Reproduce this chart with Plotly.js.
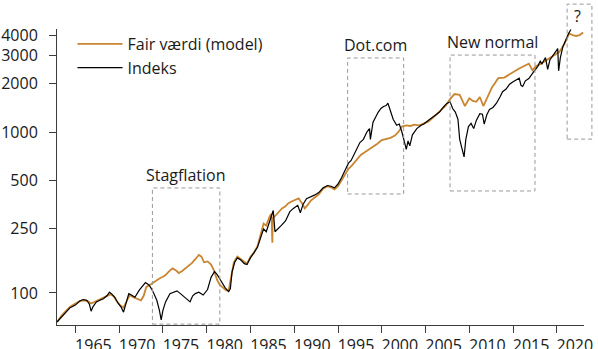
<!DOCTYPE html>
<html>
<head>
<meta charset="utf-8">
<script src="https://cdn.plot.ly/plotly-3.0.1.min.js"></script>
<style>html,body{margin:0;padding:0;background:#fff;}#chart{width:598px;height:349px;}</style>
</head>
<body>
<div id="chart"></div>
<script>
// Fair værdi (model) — orange
const fairYears = [1962.9,1963.4,1963.9,1964.4,1965.0,1965.5,1965.9,1966.4,1966.8,1967.2,1967.7,1968.2,1968.6,1969.0,1969.4,1969.7,1970.1,1970.5,1970.9,1971.2,1971.6,1972.0,1972.5,1972.8,1973.1,1973.5,1973.8,1974.2,1974.6,1975.0,1975.3,1975.7,1976.1,1976.5,1976.8,1977.2,1977.6,1978.0,1978.3,1978.7,1979.1,1979.4,1979.7,1980.1,1980.5,1980.8,1981.2,1981.5,1981.8,1982.2,1982.5,1982.8,1983.1,1983.5,1983.9,1984.3,1984.6,1985.0,1985.4,1985.8,1986.1,1986.5,1986.8,1987.2,1987.4,1987.5,1987.55,1987.9,1988.3,1988.6,1989.0,1989.3,1989.7,1990.1,1990.5,1990.9,1991.2,1991.5,1991.9,1992.3,1992.8,1993.3,1993.8,1994.2,1994.6,1995.0,1995.4,1995.8,1996.2,1996.6,1997.1,1997.6,1998.1,1998.5,1999.0,1999.5,2000.0,2000.5,2001.0,2001.5,2001.9,2002.3,2002.8,2003.3,2003.7,2004.3,2004.8,2005.3,2005.8,2006.3,2006.8,2007.3,2007.8,2008.3,2008.9,2009.5,2010.0,2010.4,2010.8,2011.2,2011.6,2012.1,2012.6,2012.9,2013.3,2014.0,2014.8,2015.3,2015.7,2016.2,2016.8,2017.2,2017.6,2018.0,2018.6,2019.2,2019.8,2020.3,2020.9,2021.4,2021.8,2022.2,2022.6,2023.0];
const fairValues = [66,72,77,82,86,89,90,89,86,88,90,93,95,98,95,89,84,81,90,97,94,92,90,96,109,112,115,118,123,126,129,136,142,138,133,137,142,148,153,162,172,168,155,157,150,139,120,112,108,104,103,125,155,168,162,155,152,168,178,195,228,270,262,300,310,205,290,305,320,335,345,360,370,378,387,360,335,350,375,390,410,445,460,452,440,460,500,540,590,620,670,720,750,775,810,845,890,900,920,950,1000,1080,1100,1090,1110,1100,1130,1160,1220,1300,1380,1460,1600,1720,1700,1450,1620,1560,1540,1650,1450,1650,1900,2000,2160,2180,2320,2420,2480,2560,2660,2420,2560,2620,2750,2860,3000,3150,3550,4100,4000,3950,4000,4150];

// Indeks — black
const idxYears = [1962.9,1963.4,1963.9,1964.4,1965.0,1965.5,1965.9,1966.3,1966.6,1966.8,1967.0,1967.4,1967.8,1968.2,1968.6,1968.9,1969.2,1969.5,1969.9,1970.2,1970.5,1970.8,1971.1,1971.4,1971.8,1972.3,1972.7,1973.0,1973.4,1973.7,1974.0,1974.3,1974.6,1974.8,1975.0,1975.3,1975.8,1976.2,1976.6,1977.0,1977.4,1977.8,1978.1,1978.4,1978.7,1979.1,1979.4,1979.6,1980.1,1980.5,1980.9,1981.2,1981.5,1981.8,1982.1,1982.5,1982.7,1982.9,1983.2,1983.5,1983.9,1984.3,1984.6,1985.0,1985.4,1985.8,1986.1,1986.5,1986.8,1987.2,1987.6,1987.8,1988.1,1988.5,1989.0,1989.5,1989.9,1990.4,1990.7,1991.0,1991.4,1991.9,1992.3,1992.8,1993.3,1993.8,1994.2,1994.6,1995.0,1995.4,1995.8,1996.2,1996.5,1997.0,1997.5,1997.9,1998.3,1998.6,1998.7,1999.0,1999.3,1999.6,1999.9,2000.2,2000.5,2000.7,2000.9,2001.1,2001.3,2001.7,2002.0,2002.3,2002.6,2002.8,2003.0,2003.2,2003.5,2004.0,2004.5,2004.8,2005.3,2005.8,2006.2,2006.6,2007.0,2007.4,2007.8,2008.1,2008.4,2008.7,2008.9,2009.2,2009.4,2009.6,2009.9,2010.2,2010.5,2010.8,2011.2,2011.5,2011.7,2012.0,2012.3,2012.7,2013.1,2013.5,2013.8,2014.2,2014.6,2015.0,2015.4,2015.7,2015.9,2016.1,2016.4,2016.8,2017.3,2017.8,2018.1,2018.3,2018.7,2018.95,2019.2,2019.5,2019.9,2020.1,2020.2,2020.4,2020.7,2021.0,2021.3,2021.6];
const idxValues = [66,71,76,81,84,89,91,90,85,77,82,88,90,92,96,101,98,94,86,82,76,86,99,97,94,104,110,116,112,106,98,90,78,68,78,88,99,101,103,99,95,91,88,96,99,101,99,97,105,125,136,130,122,115,108,102,106,135,155,165,160,152,150,165,178,192,215,250,240,280,325,240,248,262,280,320,335,350,315,355,385,395,405,420,450,465,460,450,475,520,580,640,665,760,860,900,1000,1050,900,1150,1250,1330,1400,1440,1460,1510,1400,1300,1200,1100,1120,1000,850,780,880,820,960,1050,1100,1120,1180,1230,1280,1330,1420,1500,1540,1400,1330,1200,900,780,700,900,1080,1130,1050,1180,1300,1290,1120,1280,1380,1420,1510,1650,1780,1850,1980,2050,2100,2160,1950,1920,2080,2150,2350,2550,2750,2650,2900,2450,2800,2950,3150,3300,2400,2900,3400,3750,4050,4330];

// Axis ticks
const xTicks = [1965,1970,1975,1980,1985,1990,1995,2000,2005,2010,2015,2020];
const yTicks = [100,250,500,1000,2000,3000,4000];

// Highlighted periods
const periodLabels = ['Stagflation','Dot.com','New normal'];
const periodX0 = [1973.8,1996.1,2007.8];
const periodX1 = [1981.5,2002.5,2017.5];
const periodY0 = [64,412,430];
const periodY1 = [449,2885,3005];

const FONT = 'Open Sans, Lato, sans-serif';
const TXT = '#1a1a1a';
const AX = '#3a3f3a';
const BOX = {color: '#999999', width: 1, dash: '4px,3px'};

const traces = [
  {x: fairYears, y: fairValues, type: 'scatter', mode: 'lines', name: 'Fair værdi (model)',
   line: {color: '#c98530', width: 1.8}},
  {x: idxYears, y: idxValues, type: 'scatter', mode: 'lines', name: 'Indeks',
   line: {color: '#000000', width: 1.2}}
];

const shapes = [];
const annotations = [];
for (let i = 0; i < periodLabels.length; i++) {
  shapes.push({type: 'rect', xref: 'x', yref: 'y', x0: periodX0[i], x1: periodX1[i], y0: periodY0[i], y1: periodY1[i],
    line: BOX, fillcolor: 'rgba(0,0,0,0)'});
  annotations.push({xref: 'x', yref: 'y', x: (periodX0[i] + periodX1[i]) / 2, y: Math.log10(periodY1[i]),
    text: periodLabels[i], showarrow: false, yanchor: 'bottom', xanchor: 'center', yshift: 0,
    font: {family: FONT, size: 16, color: TXT}});
}
// "?" box beyond the data range
shapes.push({type: 'rect', xref: 'paper', yref: 'paper', x0: 0.968, x1: 1.015, y0: 0.628, y1: 1.084,
  line: BOX, fillcolor: 'rgba(0,0,0,0)'});
annotations.push({xref: 'paper', yref: 'paper', x: 0.988, y: 1.044, text: '?', showarrow: false,
  xanchor: 'center', yanchor: 'middle', font: {family: FONT, size: 16, color: TXT}});

const layout = {
  width: 598, height: 349,
  margin: {l: 57, r: 14, t: 29, b: 24, pad: 0},
  paper_bgcolor: '#ffffff', plot_bgcolor: '#ffffff',
  font: {family: FONT, size: 16, color: TXT},
  showlegend: true,
  legend: {x: 0.0294, y: 1.007, xanchor: 'left', yanchor: 'top', bgcolor: 'rgba(0,0,0,0)',
    font: {family: FONT, size: 16, color: TXT}, tracegroupgap: 0, itemwidth: 45},
  xaxis: {range: [1962.9, 2023.1], tickmode: 'array', tickvals: xTicks, ticktext: xTicks.map(String),
    showgrid: false, zeroline: false, showline: true, linecolor: AX, linewidth: 1,
    ticks: 'outside', ticklen: 7, tickcolor: AX, ticklabelshift: 18, ticklabelstandoff: -1,
    tickfont: {family: FONT, size: 16, color: TXT}},
  yaxis: {type: 'log', range: [Math.log10(63.2), Math.log10(4365)], tickmode: 'array', tickvals: yTicks,
    ticktext: yTicks.map(String), showgrid: false, zeroline: false, showline: true, linecolor: AX, linewidth: 1,
    ticks: 'outside', ticklen: 7, tickcolor: AX, ticklabelstandoff: 8, tickfont: {family: FONT, size: 16, color: TXT}},
  shapes: shapes,
  annotations: annotations
};

Plotly.newPlot('chart', traces, layout, {displayModeBar: false, staticPlot: true});
</script>
</body>
</html>
